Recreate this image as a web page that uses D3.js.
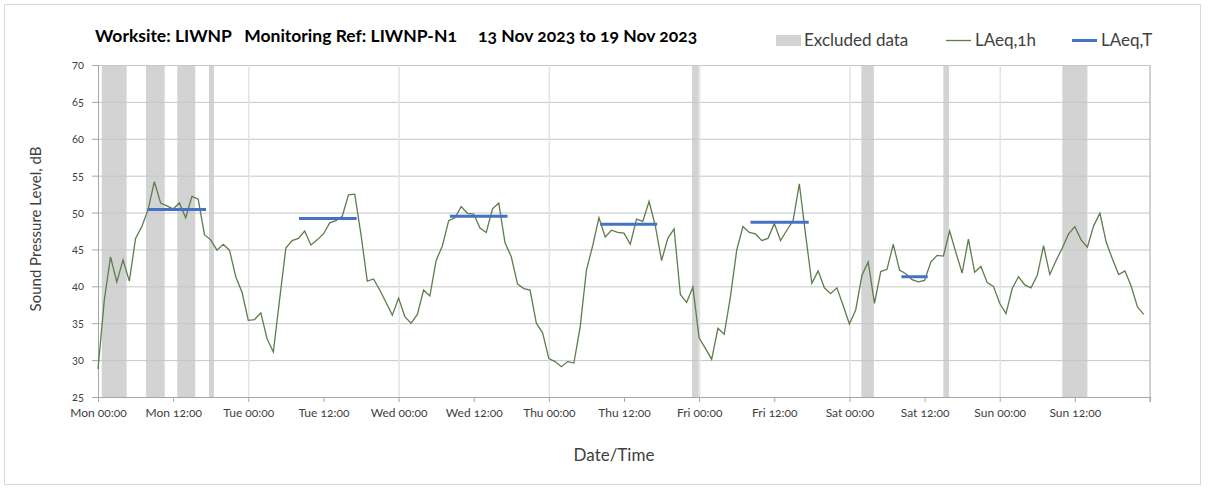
<!DOCTYPE html>
<html>
<head>
<meta charset="utf-8">
<script src="https://d3js.org/d3.v7.min.js"></script>
<style>
  body { margin: 0; background: #fff; }
  svg text { font-family: Lato, "Open Sans", sans-serif; font-feature-settings: "onum"; }
</style>
</head>
<body>
<svg id="chart" width="1208" height="492"></svg>
<script>

// hourly LAeq,1h, Mon 00:00 .. Sun 23:00
var hourlyLevels = [
  28.8, 38.1, 44.0, 40.6, 43.6, 40.7, 46.5, 48.1, 50.4, 54.2, 51.3, 50.9,
  50.5, 51.3, 49.3, 52.2, 51.8, 47.0, 46.3, 44.9, 45.7, 44.9, 41.3, 39.2,
  35.4, 35.5, 36.4, 32.9, 31.1, 38.2, 45.2, 46.2, 46.5, 47.5, 45.6, 46.3,
  47.1, 48.6, 48.9, 49.5, 52.4, 52.5, 47.0, 40.7, 41.0, 39.5, 37.8, 36.1,
  38.4, 35.9, 35.0, 36.2, 39.5, 38.7, 43.5, 45.5, 48.9, 49.3, 50.8, 49.9,
  49.8, 47.9, 47.3, 50.5, 51.3, 45.9, 44.0, 40.3, 39.7, 39.5, 35.0, 33.7,
  30.2, 29.8, 29.1, 29.8, 29.6, 34.5, 42.2, 45.5, 49.3, 46.7, 47.6, 47.3,
  47.2, 45.7, 49.1, 48.8, 51.5, 48.2, 43.5, 46.5, 47.8, 38.9, 37.8, 39.9,
  33.0, 31.6, 30.1, 34.3, 33.5, 38.6, 44.9, 48.1, 47.3, 47.1, 46.2, 46.5,
  48.5, 46.2, 47.6, 48.9, 53.9, 47.0, 40.4, 42.1, 39.8, 39.0, 39.8, 37.4,
  34.9, 36.8, 41.5, 43.3, 37.7, 42.0, 42.3, 45.7, 42.2, 41.7, 40.9, 40.6,
  40.8, 43.3, 44.2, 44.1, 47.5, 44.6, 41.8, 46.4, 41.9, 42.7, 40.5, 40.0,
  37.7, 36.3, 39.7, 41.3, 40.2, 39.8, 41.5, 45.5, 41.6, 43.5, 45.2, 47.1,
  48.1, 46.3, 45.3, 48.2, 49.9, 46.0, 43.7, 41.6, 42.1, 40.0, 37.2, 36.2
];

// LAeq,T over the working period (hours from Mon 00:00)
var periodStart = [7.9, 32.1, 56.2, 80.2, 104.2, 128.3];
var periodEnd   = [17.25, 41.3, 65.4, 89.3, 113.5, 132.5];
var periodLevel = [50.4, 49.2, 49.5, 48.4, 48.7, 41.3];

// excluded data windows (hours from Mon 00:00)
var excludedStart = [0.6, 7.66, 12.66, 17.72, 94.86, 121.9, 135.0, 154.0];
var excludedEnd   = [4.58, 10.65, 15.53, 18.52, 95.93, 123.9, 135.9, 158.0];

var tickLabels = ["Mon 00:00", "Mon 12:00", "Tue 00:00", "Tue 12:00", "Wed 00:00", "Wed 12:00",
                  "Thu 00:00", "Thu 12:00", "Fri 00:00", "Fri 12:00", "Sat 00:00", "Sat 12:00",
                  "Sun 00:00", "Sun 12:00"];
var yTicks = [25, 30, 35, 40, 45, 50, 55, 60, 65, 70];

var svg = d3.select("#chart");
var plotLeft = 98, plotRight = 1150, plotTop = 65, plotBottom = 397;

var x = d3.scaleLinear().domain([0, 168]).range([plotLeft, plotRight]);
var y = d3.scaleLinear().domain([25, 70]).range([plotBottom, plotTop]);

// outer frame
svg.append("rect")
  .attr("x", 4.5).attr("y", 4.5).attr("width", 1196).attr("height", 480)
  .attr("fill", "none").attr("stroke", "#d9d9d9");

// excluded bands
svg.selectAll(".band")
  .data(excludedStart)
  .enter()
  .append("rect")
    .attr("class", "band")
    .attr("x", function(d) { return x(d); })
    .attr("width", function(d, i) { return x(excludedEnd[i]) - x(d); })
    .attr("y", plotTop)
    .attr("height", plotBottom - plotTop)
    .attr("fill", "#d3d3d3");

// horizontal grid
svg.append("g")
  .attr("transform", "translate(" + plotLeft + ",0)")
  .call(d3.axisLeft(y).tickValues(yTicks).tickSize(-(plotRight - plotLeft)).tickFormat(""))
  .call(function(g) {
    g.select(".domain").remove();
    g.selectAll("line").attr("stroke", "#c6c6c6");
  });

// vertical day grid
svg.append("g")
  .attr("transform", "translate(0," + plotBottom + ")")
  .call(d3.axisBottom(x).tickValues([24, 48, 72, 96, 120, 144]).tickSize(-(plotBottom - plotTop)).tickFormat(""))
  .call(function(g) {
    g.select(".domain").remove();
    g.selectAll("line").attr("stroke", "#e3e3e3").attr("stroke-width", 1.5);
  });

// y axis
svg.append("g")
  .attr("transform", "translate(" + plotLeft + ",0)")
  .call(d3.axisLeft(y).tickValues(yTicks).tickSize(6).tickPadding(8))
  .call(function(g) {
    g.select(".domain").attr("stroke", "#a6a6a6");
    g.selectAll("line").attr("stroke", "#a6a6a6");
    g.selectAll("text").attr("fill", "#404040").style("font-size", "11px");
  });

// x axis
svg.append("g")
  .attr("transform", "translate(0," + plotBottom + ")")
  .call(d3.axisBottom(x).tickValues(d3.range(0, 169, 12)).tickSize(5).tickPadding(6)
    .tickFormat(function(d, i) { return tickLabels[i] || ""; }))
  .call(function(g) {
    g.select(".domain").attr("stroke", "#a6a6a6");
    g.selectAll("line").attr("stroke", "#a6a6a6");
    g.selectAll("text").attr("fill", "#404040").style("font-size", "12px");
  });

// right border of plot area
svg.append("line")
  .attr("x1", plotRight).attr("x2", plotRight).attr("y1", plotTop).attr("y2", plotBottom + 5)
  .attr("stroke", "#a6a6a6");

// hourly line
var line = d3.line()
  .x(function(d, i) { return x(i); })
  .y(function(d) { return y(d); });

svg.append("path")
  .datum(hourlyLevels)
  .attr("d", line)
  .attr("fill", "none")
  .attr("stroke", "#5d7d4c")
  .attr("stroke-width", 1.3);

// LAeq,T segments
svg.selectAll(".period")
  .data(periodLevel)
  .enter()
  .append("line")
    .attr("class", "period")
    .attr("x1", function(d, i) { return x(periodStart[i]); })
    .attr("x2", function(d, i) { return x(periodEnd[i]); })
    .attr("y1", function(d) { return y(d); })
    .attr("y2", function(d) { return y(d); })
    .attr("stroke", "#4472c4")
    .attr("stroke-width", 3);

// title
svg.append("text")
  .attr("x", 95).attr("y", 42)
  .attr("fill", "#000")
  .style("font-size", "17.5px").style("font-weight", "bold").style("white-space", "pre")
  .text("Worksite: LIWNP   Monitoring Ref: LIWNP-N1     13 Nov 2023 to 19 Nov 2023");

// legend
var lg = svg.append("g").style("font-size", "17px");
lg.append("rect").attr("x", 776).attr("y", 35).attr("width", 25).attr("height", 11).attr("fill", "#d3d3d3");
lg.append("text").attr("x", 804).attr("y", 46).attr("fill", "#404040").text("Excluded data");
lg.append("line").attr("x1", 946).attr("x2", 971).attr("y1", 40.5).attr("y2", 40.5)
  .attr("stroke", "#5d7d4c").attr("stroke-width", 1.3);
lg.append("text").attr("x", 975).attr("y", 46).attr("fill", "#404040").text("LAeq,1h");
lg.append("line").attr("x1", 1072).attr("x2", 1097).attr("y1", 40.5).attr("y2", 40.5)
  .attr("stroke", "#4472c4").attr("stroke-width", 3);
lg.append("text").attr("x", 1101).attr("y", 46).attr("fill", "#404040").text("LAeq,T");

// axis titles
svg.append("text")
  .attr("transform", "translate(41," + ((plotTop + plotBottom) / 2 - 2) + ") rotate(-90)")
  .attr("text-anchor", "middle")
  .attr("fill", "#404040")
  .style("font-size", "15px")
  .text("Sound Pressure Level, dB");

svg.append("text")
  .attr("x", 614).attr("y", 461)
  .attr("text-anchor", "middle")
  .attr("fill", "#404040")
  .style("font-size", "17px")
  .text("Date/Time");

</script>
</body>
</html>
